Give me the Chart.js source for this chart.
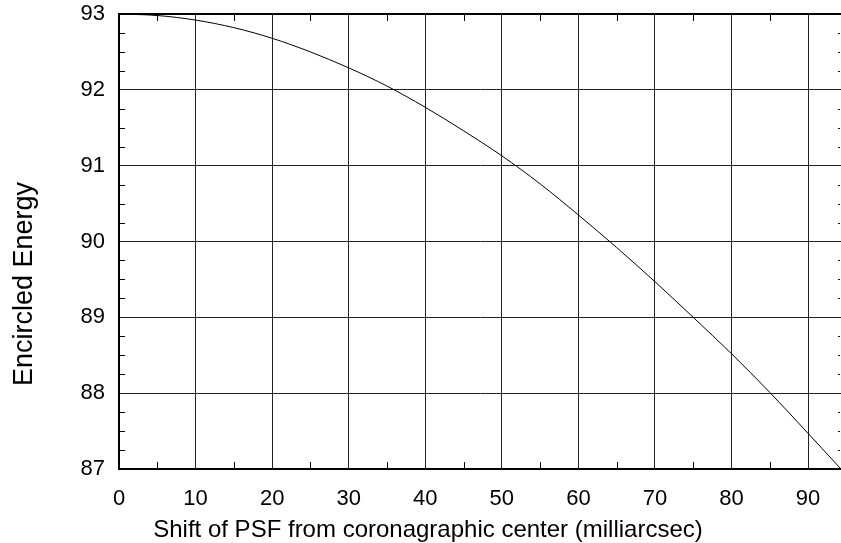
<!DOCTYPE html>
<html>
<head>
<meta charset="utf-8">
<script src="https://cdn.jsdelivr.net/npm/chart.js@4/dist/chart.umd.min.js"></script>
<style>
  html, body { margin: 0; padding: 0; background: #fff; }
</style>
</head>
<body>
<canvas id="myChart" width="841" height="543"></canvas>
<script>
// PSF shift (milliarcsec) vs encircled energy
var shift  = [0, 5, 10, 15, 20, 25, 30, 35, 40, 45, 50, 55, 60, 65, 70, 75, 80, 85, 90, 94.3];
var energy = [93.00, 92.98, 92.92, 92.82, 92.68, 92.50, 92.29, 92.05, 91.77, 91.46, 91.13,
              90.76, 90.35, 89.92, 89.47, 89.00, 88.52, 88.01, 87.47, 87.00];

var xTicks = [0, 10, 20, 30, 40, 50, 60, 70, 80, 90];
var yTicks = [87, 88, 89, 90, 91, 92, 93];
var xMinor = [5, 15, 25, 35, 45, 55, 65, 75, 85];
var yMinor = [87.25, 87.5, 87.75, 88.25, 88.5, 88.75, 89.25, 89.5, 89.75,
              90.25, 90.5, 90.75, 91.25, 91.5, 91.75, 92.25, 92.5, 92.75];

var xTitle = 'Shift of PSF from coronagraphic center (milliarcsec)';
var yTitle = 'Encircled Energy';

var points = [];
for (let i = 0; i < shift.length; i++) {
  points.push({ x: shift[i], y: energy[i] });
}

var FONT = 'Arial, "Liberation Sans", Helvetica, sans-serif';

// inward minor ticks, top frame line and the axis titles
var frame = {
  id: 'frame',
  afterDraw: function(chart) {
    var ctx = chart.ctx, a = chart.chartArea;
    var xs = chart.scales.x, ys = chart.scales.y;
    ctx.save();
    ctx.strokeStyle = '#000';
    ctx.lineWidth = 2;
    ctx.beginPath();
    ctx.moveTo(a.left - 1, a.top);
    ctx.lineTo(a.right, a.top);
    ctx.stroke();

    ctx.lineWidth = 1;
    ctx.beginPath();
    xMinor.forEach(function(v) {
      var px = Math.round(xs.getPixelForValue(v)) + 0.5;
      ctx.moveTo(px, a.bottom);
      ctx.lineTo(px, a.bottom - 7);
      ctx.moveTo(px, a.top);
      ctx.lineTo(px, a.top + 7);
    });
    yMinor.forEach(function(v) {
      var py = Math.round(ys.getPixelForValue(v)) + 0.5;
      ctx.moveTo(a.left, py);
      ctx.lineTo(a.left + 6, py);
      ctx.moveTo(a.right - 3, py);
      ctx.lineTo(a.right - 1, py);
    });
    ctx.stroke();

    ctx.fillStyle = '#000';
    ctx.textAlign = 'center';
    ctx.textBaseline = 'alphabetic';
    ctx.font = '24px ' + FONT;
    ctx.fillText(xTitle, 428, 537);

    ctx.translate(32, 284);
    ctx.rotate(-Math.PI / 2);
    ctx.font = '27px ' + FONT;
    ctx.fillText(yTitle, 0, 0);
    ctx.restore();
  }
};

function noEdgePadding(scale) {
  scale.paddingTop = 0;
  scale.paddingBottom = 0;
  scale.paddingLeft = 0;
  scale.paddingRight = 0;
}

var ctx = document.getElementById('myChart').getContext('2d');
var myChart = new Chart(ctx, {
  type: 'line',
  data: {
    datasets: [{
      data: points,
      borderColor: '#000',
      borderWidth: 1,
      pointRadius: 0,
      fill: false,
      cubicInterpolationMode: 'monotone'
    }]
  },
  options: {
    responsive: false,
    animation: false,
    events: [],
    layout: { padding: { top: 14, left: 0, right: 0, bottom: 0 } },
    plugins: {
      legend: { display: false },
      tooltip: { enabled: false }
    },
    scales: {
      x: {
        type: 'linear',
        min: 0,
        max: 94.3,
        afterBuildTicks: function(scale) {
          scale.ticks = xTicks.map(function(v) { return { value: v }; });
        },
        afterFit: function(scale) { scale.height = 74; noEdgePadding(scale); },
        ticks: {
          includeBounds: false,
          color: '#000',
          padding: 17,
          maxRotation: 0,
          font: { family: FONT, size: 22 }
        },
        grid: { color: '#222', lineWidth: 1, drawTicks: false },
        border: { display: true, color: '#000', width: 2 }
      },
      y: {
        min: 87,
        max: 93,
        afterBuildTicks: function(scale) {
          scale.ticks = yTicks.map(function(v) { return { value: v }; });
        },
        afterFit: function(scale) { scale.width = 119; noEdgePadding(scale); },
        ticks: {
          color: '#000',
          padding: 14,
          font: { family: FONT, size: 22 }
        },
        grid: { color: '#222', lineWidth: 1, drawTicks: false },
        border: { display: true, color: '#000', width: 2 }
      }
    }
  },
  plugins: [frame]
});
</script>
</body>
</html>
